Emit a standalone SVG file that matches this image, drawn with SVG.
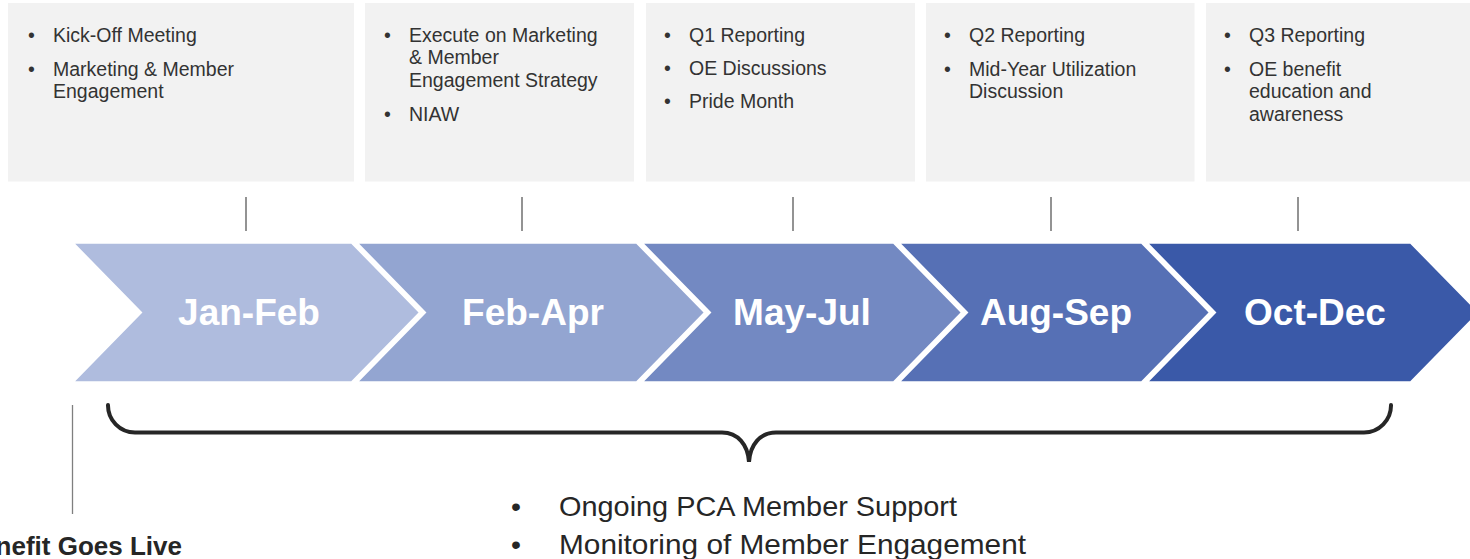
<svg xmlns="http://www.w3.org/2000/svg" width="1470" height="559" viewBox="0 0 1470 559">
<style>
.box{fill:#F2F2F2}
.bt{font-family:"Liberation Sans",Arial,sans-serif;font-size:19.5px;fill:#333333}
.tick{stroke:#595959;stroke-width:1.3}
.chev{stroke:#FFFFFF;stroke-width:3.5;stroke-linejoin:miter}
.cl{font-family:"Liberation Sans",Arial,sans-serif;font-size:37px;font-weight:bold;fill:#FFFFFF;text-anchor:middle}
.bot{font-family:"Liberation Sans",Arial,sans-serif;font-size:28.5px;fill:#262626}
</style>
<rect width="1470" height="559" fill="#FFFFFF"/>
<g id="box1">
<rect class="box" x="8" y="3" width="346" height="178.5"/>
<text class="bt"><tspan x="28" y="41.5">•</tspan><tspan x="53" y="41.5">Kick-Off Meeting</tspan><tspan x="28" y="75.5">•</tspan><tspan x="53" y="75.5">Marketing &amp; Member</tspan><tspan x="53" y="98">Engagement</tspan></text>
</g>
<g id="box2">
<rect class="box" x="365" y="3" width="269" height="178.5"/>
<text class="bt"><tspan x="384" y="41.5">•</tspan><tspan x="409" y="41.5">Execute on Marketing</tspan><tspan x="409" y="64">&amp; Member</tspan><tspan x="409" y="86.5">Engagement Strategy</tspan><tspan x="384" y="120.5">•</tspan><tspan x="409" y="120.5">NIAW</tspan></text>
</g>
<g id="box3">
<rect class="box" x="646" y="3" width="269" height="178.5"/>
<text class="bt"><tspan x="664" y="41.5">•</tspan><tspan x="689" y="41.5">Q1 Reporting</tspan><tspan x="664" y="75">•</tspan><tspan x="689" y="75">OE Discussions</tspan><tspan x="664" y="108">•</tspan><tspan x="689" y="108">Pride Month</tspan></text>
</g>
<g id="box4">
<rect class="box" x="926" y="3" width="268.5" height="178.5"/>
<text class="bt"><tspan x="944" y="41.5">•</tspan><tspan x="969" y="41.5">Q2 Reporting</tspan><tspan x="944" y="75.5">•</tspan><tspan x="969" y="75.5">Mid-Year Utilization</tspan><tspan x="969" y="98">Discussion</tspan></text>
</g>
<g id="box5">
<rect class="box" x="1206" y="3" width="264" height="178.5"/>
<text class="bt"><tspan x="1224" y="41.5">•</tspan><tspan x="1249" y="41.5">Q3 Reporting</tspan><tspan x="1224" y="75.5">•</tspan><tspan x="1249" y="75.5">OE benefit</tspan><tspan x="1249" y="98">education and</tspan><tspan x="1249" y="120.5">awareness</tspan></text>
</g>
<g id="connectors">
<line class="tick" x1="246" y1="197" x2="246" y2="231"/>
<line class="tick" x1="522" y1="197" x2="522" y2="231"/>
<line class="tick" x1="793" y1="197" x2="793" y2="231"/>
<line class="tick" x1="1051" y1="197" x2="1051" y2="231"/>
<line class="tick" x1="1298" y1="197" x2="1298" y2="231"/>
<line x1="72.5" y1="405" x2="72.5" y2="514" stroke="#7F7F7F" stroke-width="1.3"/>
<path d="M108,405 A27,27 0 0 0 135,432.5 L722,432.5 C738,432.5 748,445 749,462 C750,445 760,432.5 776,432.5 L1364,432.5 A27,27 0 0 0 1391,405" fill="none" stroke="#262626" stroke-width="4" stroke-linecap="round"/>
</g>
<g id="chevron1">
<polygon class="chev" fill="#AFBCDE" points="71,242 352,242 421,312.5 352,383 71,383 140,312.5"/>
<text class="cl" x="249" y="325">Jan-Feb</text>
</g>
<g id="chevron2">
<polygon class="chev" fill="#93A5D1" points="355,242 637,242 706,312.5 637,383 355,383 424,312.5"/>
<text class="cl" x="533" y="325">Feb-Apr</text>
</g>
<g id="chevron3">
<polygon class="chev" fill="#7389C2" points="640,242 894,242 963,312.5 894,383 640,383 709,312.5"/>
<text class="cl" x="802" y="325">May-Jul</text>
</g>
<g id="chevron4">
<polygon class="chev" fill="#5670B5" points="897,242 1142,242 1211,312.5 1142,383 897,383 966,312.5"/>
<text class="cl" x="1056" y="325">Aug-Sep</text>
</g>
<g id="chevron5">
<polygon class="chev" fill="#3A59A8" points="1145,242 1411,242 1480,312.5 1411,383 1145,383 1214,312.5"/>
<text class="cl" x="1315" y="325">Oct-Dec</text>
</g>
<g id="golive">
<text x="182" y="555" text-anchor="end" font-family="'Liberation Sans',Arial,sans-serif" font-size="26" font-weight="bold" fill="#262626">Benefit Goes Live</text>
</g>
<g id="ongoing">
<text class="bot"><tspan x="511" y="516">•</tspan><tspan x="559" y="516" textLength="398" lengthAdjust="spacingAndGlyphs">Ongoing PCA Member Support</tspan><tspan x="511" y="554">•</tspan><tspan x="559" y="554" textLength="467" lengthAdjust="spacingAndGlyphs">Monitoring of Member Engagement</tspan></text>
</g>
</svg>
